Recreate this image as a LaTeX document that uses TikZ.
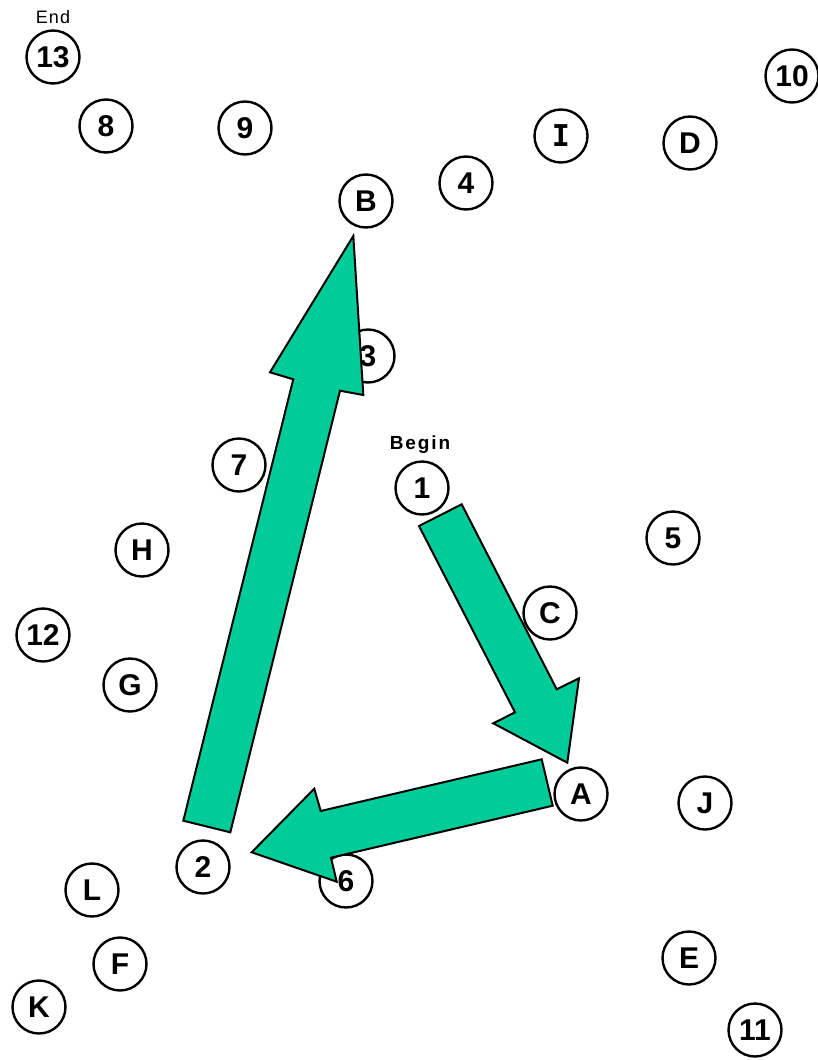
\documentclass[tikz,border=0pt]{standalone}
\usepackage{fontspec}
\setmainfont{Liberation Sans}
\newfontfamily\serifI{DejaVu Sans Mono}
\definecolor{arrowgreen}{RGB}{0,204,153}
\begin{document}
\begin{tikzpicture}[x=1pt,y=-1pt,
  station/.style={circle,draw=black,line width=2.4pt,minimum size=53pt,inner sep=0pt,
    font=\fontsize{30}{36}\selectfont\bfseries},
  caption/.style={inner sep=0pt,font=\fontsize{19}{22}\selectfont\bfseries\addfontfeature{LetterSpace=10}},
  endcaption/.style={inner sep=0pt,font=\fontsize{18}{22}\selectfont\addfontfeature{LetterSpace=6}},
  blockarrow/.style={fill=arrowgreen,draw=black,line width=2pt,line join=miter}]
\useasboundingbox (0,0) rectangle (818,1060);
% stations
\node[station] (n13) at (53,57) {13};
\node[endcaption] (endl) at (53,17) {End};
\node[station] (n8) at (106,126) {8};
\node[station] (n9) at (245,128) {9};
\node[station] (n10) at (792,76) {10};
\node[station] (nI) at (561,136) {\serifI I};
\node[station] (nD) at (690,143) {D};
\node[station] (n4) at (466,183) {4};
\node[station] (nB) at (366,201) {B};
\node[station] (n3) at (368,356) {3};
\node[station] (n7) at (239,465) {7};
\node[station] (n1) at (422,488) {1};
\node[caption] (beginl) at (420,445) {Begin};
\node[station] (n5) at (673,538) {5};
\node[station] (nH) at (142,550) {H};
\node[station] (nC) at (550,613) {C};
\node[station] (n12) at (43,635) {12};
\node[station] (nG) at (130,685) {G};
\node[station] (nA) at (581,794) {A};
\node[station] (nJ) at (705,803) {J};
\node[station] (n2) at (203,867) {2};
\node[station] (n6) at (346,881) {6};
\node[station] (nL) at (92,890) {L};
\node[station] (nF) at (120,964) {F};
\node[station] (nE) at (689,958) {E};
\node[station] (nK) at (39,1007) {K};
\node[station] (n11) at (755,1030) {11};
% block arrows: 1 -> A, A -> 2, 2 -> B
\draw[blockarrow] (419,526) -- (461.7,504.3) -- (556.7,689.3) -- (579,678.3)
  -- (567.3,762.7) -- (493.3,723.3) -- (515,712.3) -- cycle;
\draw[blockarrow] (541.7,759.3) -- (552.7,805.7) -- (331,857.7) -- (336.7,881.7)
  -- (251.7,852.3) -- (314.3,788.7) -- (320.7,811) -- cycle;
\draw[blockarrow] (183.3,820.7) -- (230.3,832.3) -- (340,390.7) -- (363.3,395)
  -- (353.3,236) -- (270,372.3) -- (293.3,379.3) -- cycle;
\end{tikzpicture}
\end{document}
